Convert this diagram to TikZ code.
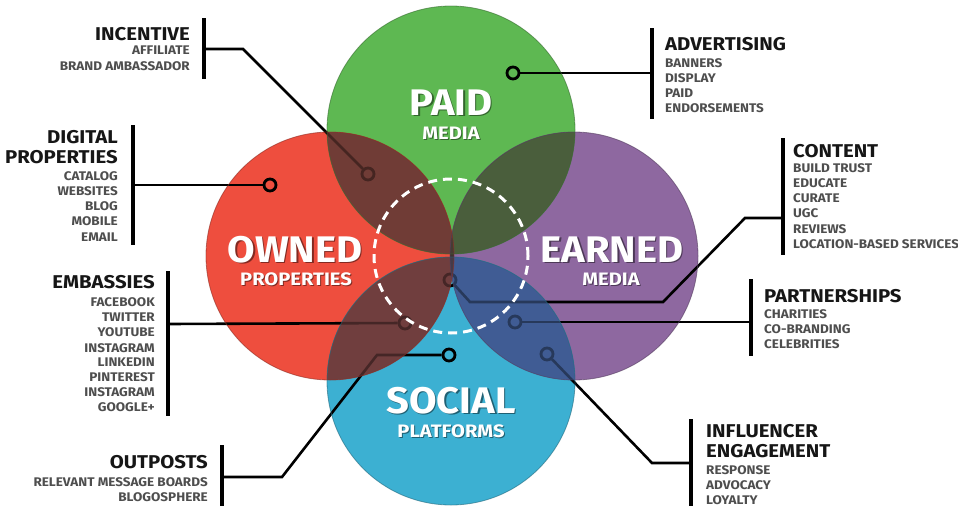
\documentclass[tikz,border=0pt]{standalone}
\usepackage{fontspec}
\setmainfont{Fira Sans}
\definecolor{cgreen}{RGB}{94,184,82}
\definecolor{cred}{RGB}{238,78,62}
\definecolor{cpurple}{RGB}{142,104,160}
\definecolor{cblue}{RGB}{60,176,210}
\definecolor{crg}{RGB}{112,60,54}
\definecolor{cgp}{RGB}{74,94,60}
\definecolor{crb}{RGB}{112,62,62}
\definecolor{cpb}{RGB}{64,92,148}
\definecolor{crp}{RGB}{66,48,48}
\definecolor{headc}{RGB}{22,22,22}
\definecolor{subc}{RGB}{78,78,78}
\newcommand\vennoverlaps[1]{%
  \begin{scope}[fill opacity=#1]
    \begin{scope}\clip (G) circle (124pt); \fill[crg] (R) circle (124pt); \end{scope}
    \begin{scope}\clip (G) circle (124pt); \fill[cgp] (P) circle (124pt); \end{scope}
    \begin{scope}\clip (B) circle (124pt); \fill[crb] (R) circle (124pt); \end{scope}
    \begin{scope}\clip (B) circle (124pt); \fill[cpb] (P) circle (124pt); \end{scope}
    \begin{scope}\clip (R) circle (124pt); \fill[crp] (P) circle (124pt); \end{scope}
  \end{scope}}
\tikzset{
  head/.style={font=\fontsize{18.5}{20}\selectfont\bfseries\addfontfeatures{FakeStretch=1.1}, text=headc, inner sep=0pt},
  sub/.style={font=\fontsize{12.5}{14}\selectfont\bfseries\addfontfeatures{FakeStretch=1.08}, text=subc, inner sep=0pt},
  big/.style={font=\fontsize{37}{40}\selectfont\bfseries\addfontfeatures{FakeStretch=1.08}, text=white, inner sep=0pt, anchor=base},
  small/.style={font=\fontsize{18}{19}\selectfont\bfseries\addfontfeatures{FakeStretch=1.12}, text=white, inner sep=0pt, anchor=base},
  shadow/.style={text=black, text opacity=0.45},
  bar/.style={line width=4pt, black},
  conn/.style={line width=2.6pt, black},
  marker/.style={circle, draw=black, line width=2.8pt, minimum size=12pt, inner sep=0pt},
  le/.style={anchor=base east},
  ri/.style={anchor=base west}
}
\begin{document}
\begin{tikzpicture}[x=1pt,y=-1pt]
\useasboundingbox (0,0) rectangle (958,506);
\fill[white] (0,0) rectangle (958,506);
% circle centres
\coordinate (G) at (451,130);
\coordinate (R) at (330,256);
\coordinate (P) at (574,256);
\coordinate (B) at (451,381);
\coordinate (C) at (451,256);
% circles
\fill[cgreen] (G) circle (124pt);
\fill[cred] (R) circle (124pt);
\fill[cpurple] (P) circle (124pt);
\fill[cblue] (B) circle (124pt);
\vennoverlaps{1}
% markers
\node[marker] (madv) at (513,73) {};
\node[marker] (mdig) at (270,185) {};
\node[marker] (minc) at (368,174) {};
\node[marker] (mcon) at (450,280) {};
\node[marker] (memb) at (405,323) {};
\node[marker] (mpar) at (515,322) {};
\node[marker] (minf) at (547,354) {};
\node[marker] (msoc) at (449,355) {};
% bars
\coordinate (incA) at (204,18); \coordinate (incB) at (204,79);
\coordinate (digA) at (133,125); \coordinate (digB) at (133,245);
\coordinate (embA) at (168,271); \coordinate (embB) at (168,416);
\coordinate (outA) at (222,445); \coordinate (outB) at (222,506);
\coordinate (advA) at (652,28); \coordinate (advB) at (652,119);
\coordinate (conA) at (783,138); \coordinate (conB) at (783,255);
\coordinate (parA) at (751,279); \coordinate (parB) at (751,356);
\coordinate (infA) at (691,419); \coordinate (infB) at (691,506);
\draw[bar] (incA) -- (incB);
\draw[bar] (digA) -- (digB);
\draw[bar] (embA) -- (embB);
\draw[bar] (outA) -- (outB);
\draw[bar] (advA) -- (advB);
\draw[bar] (conA) -- (conB);
\draw[bar] (parA) -- (parB);
\draw[bar] (infA) -- (infB);
% connector joints
\coordinate (inc0) at (204,49); \coordinate (inc1) at (243,49);
\coordinate (dig0) at (133,185);
\coordinate (emb0) at (168,324);
\coordinate (out0) at (222,477); \coordinate (out1) at (282,477); \coordinate (out2) at (377,355);
\coordinate (adv0) at (652,73);
\coordinate (con0) at (783,218); \coordinate (con1) at (745,218); \coordinate (con2) at (663,302); \coordinate (con3) at (470,302);
\coordinate (par0) at (751,322);
\coordinate (inf0) at (691,463); \coordinate (inf1) at (652,463);
\draw[conn, line join=miter] (inc0) -- (inc1) -- (minc);
\draw[conn] (dig0) -- (mdig);
\draw[conn] (emb0) -- (memb);
\draw[conn] (out0) -- (out1) -- (out2) -- (msoc);
\draw[conn] (madv) -- (adv0);
\draw[conn] (con0) -- (con1) -- (con2) -- (con3) -- (mcon);
\draw[conn] (par0) -- (mpar);
\draw[conn] (minf) -- (inf1) -- (inf0);
% dim lines inside overlaps
\vennoverlaps{0.62}
% circle outlines
\begin{scope}[line width=0.8pt, draw opacity=0.6]
\draw[cgreen!60!black] (G) circle (124pt);
\draw[cred!60!black] (R) circle (124pt);
\draw[cpurple!60!black] (P) circle (124pt);
\draw[cblue!60!black] (B) circle (124pt);
\end{scope}
% dashed circle
\draw[white, line width=3pt, dash pattern=on 9pt off 6pt] (C) circle (77pt);
% circle labels
\node[big, shadow] (paidS) at (452.5,116.5) {PAID};
\node[big] (paid) at (451,115) {PAID};
\node[small, shadow] (paidmS) at (452,140) {MEDIA};
\node[small] (paidm) at (451,139) {MEDIA};
\node[big, shadow] (ownS) at (296.5,263.5) {OWNED};
\node[big] (own) at (295,262) {OWNED};
\node[small, shadow] (ownmS) at (297,286) {PROPERTIES};
\node[small] (ownm) at (296,285) {PROPERTIES};
\node[big, shadow] (earS) at (613.5,263.5) {EARNED};
\node[big] (ear) at (612,262) {EARNED};
\node[small, shadow] (earmS) at (612,286) {MEDIA};
\node[small] (earm) at (611,285) {MEDIA};
\node[big, shadow] (socS) at (452.5,414.5) {SOCIAL};
\node[big] (soc) at (451,413) {SOCIAL};
\node[small, shadow] (socmS) at (452,438) {PLATFORMS};
\node[small] (socm) at (451,437) {PLATFORMS};
% left texts
\node[head, le] (tinc) at (190,40) {INCENTIVE};
\node[sub, le] (tinc1) at (190,54) {AFFILIATE};
\node[sub, le] (tinc2) at (190,70) {BRAND AMBASSADOR};
\node[head, le] (tdig) at (118,143) {DIGITAL};
\node[head, le] (tdig0) at (118,163) {PROPERTIES};
\node[sub, le] (tdig1) at (118,180) {CATALOG};
\node[sub, le] (tdig2) at (118,195) {WEBSITES};
\node[sub, le] (tdig3) at (118,210) {BLOG};
\node[sub, le] (tdig4) at (118,225) {MOBILE};
\node[sub, le] (tdig5) at (118,241) {EMAIL};
\node[head, le] (temb) at (155,288) {EMBASSIES};
\node[sub, le] (temb1) at (155,306) {FACEBOOK};
\node[sub, le] (temb2) at (155,321) {TWITTER};
\node[sub, le] (temb3) at (155,336) {YOUTUBE};
\node[sub, le] (temb4) at (155,352) {INSTAGRAM};
\node[sub, le] (temb5) at (155,366) {LINKEDIN};
\node[sub, le] (temb6) at (155,381) {PINTEREST};
\node[sub, le] (temb7) at (155,396) {INSTAGRAM};
\node[sub, le] (temb8) at (155,411) {GOOGLE+};
\node[head, le] (tout) at (208,468) {OUTPOSTS};
\node[sub, le] (tout1) at (208,486) {RELEVANT MESSAGE BOARDS};
\node[sub, le] (tout2) at (208,501) {BLOGOSPHERE};
% right texts
\node[head, ri] (tadv) at (665,50) {ADVERTISING};
\node[sub, ri] (tadv1) at (665,67) {BANNERS};
\node[sub, ri] (tadv2) at (665,82) {DISPLAY};
\node[sub, ri] (tadv3) at (665,97) {PAID};
\node[sub, ri] (tadv4) at (665,112) {ENDORSEMENTS};
\node[head, ri] (tcon) at (793,157) {CONTENT};
\node[sub, ri] (tcon1) at (793,172) {BUILD TRUST};
\node[sub, ri] (tcon2) at (793,187) {EDUCATE};
\node[sub, ri] (tcon3) at (793,202) {CURATE};
\node[sub, ri] (tcon4) at (793,217) {UGC};
\node[sub, ri] (tcon5) at (793,233) {REVIEWS};
\node[sub, ri] (tcon6) at (793,248) {LOCATION-BASED SERVICES};
\node[head, ri] (tpar) at (764,302) {PARTNERSHIPS};
\node[sub, ri] (tpar1) at (764,318) {CHARITIES};
\node[sub, ri] (tpar2) at (764,333) {CO-BRANDING};
\node[sub, ri] (tpar3) at (764,348) {CELEBRITIES};
\node[head, ri] (tinf) at (706,437) {INFLUENCER};
\node[head, ri] (tinf0) at (706,457) {ENGAGEMENT};
\node[sub, ri] (tinf1) at (706,474) {RESPONSE};
\node[sub, ri] (tinf2) at (706,489) {ADVOCACY};
\node[sub, ri] (tinf3) at (706,504) {LOYALTY};
\end{tikzpicture}
\end{document}
